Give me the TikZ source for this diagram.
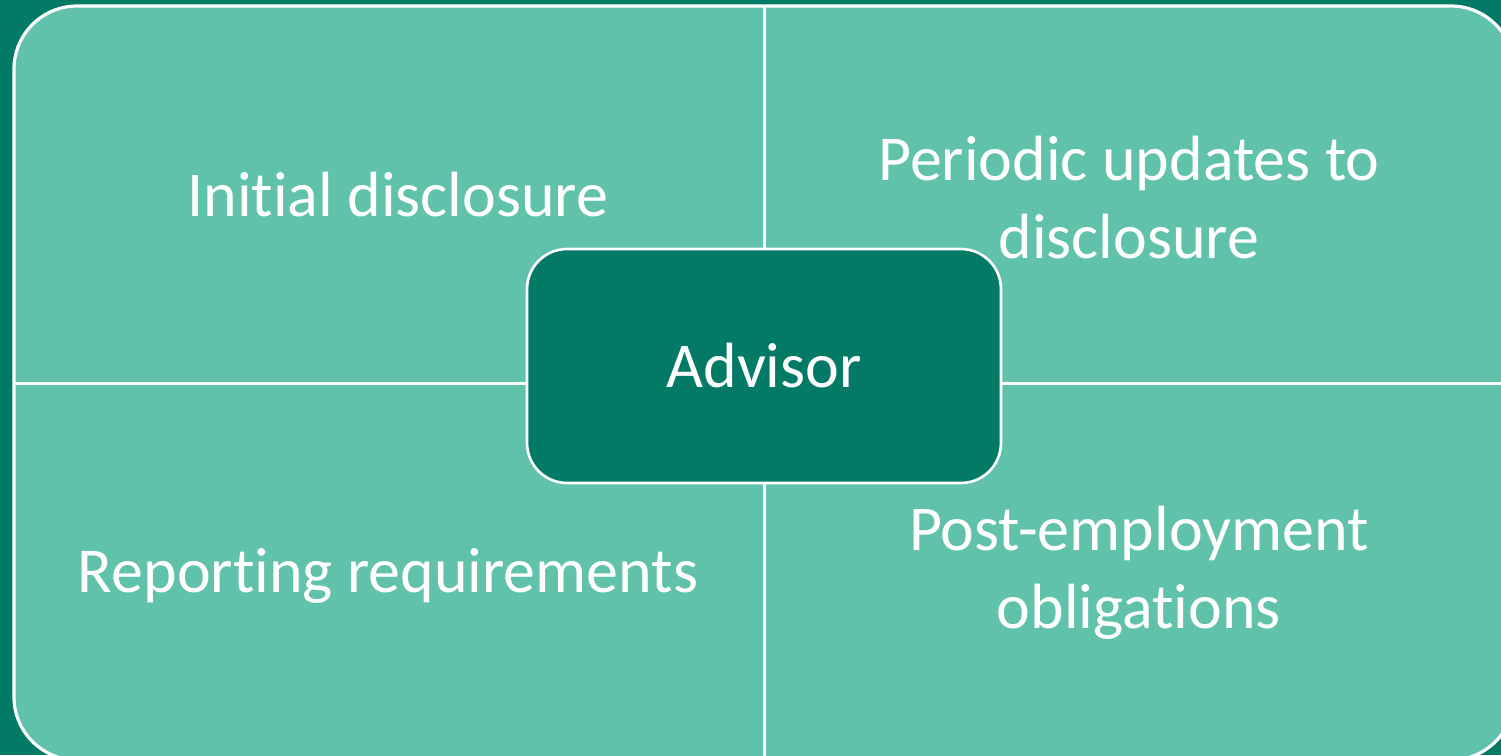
\documentclass[tikz,border=0pt]{standalone}
\usepackage{fontspec}
\setmainfont{Carlito}[Ligatures={NoCommon,NoRare}]
\usetikzlibrary{positioning}
\definecolor{deepteal}{HTML}{037A66}
\definecolor{paleteal}{HTML}{61C2AB}

\begin{document}
\begin{tikzpicture}[x=0.02cm,y=-0.02cm,
    quad/.style={text=white,font=\fontsize{36.4}{44}\selectfont,align=center,anchor=base},
    hub/.style={draw=white,line width=1.5pt,fill=deepteal,rounded corners=0.8cm,
      minimum width=9.48cm,minimum height=4.68cm,text=white,font=\fontsize{36.4}{44}\selectfont}]

  \useasboundingbox (0,0) rectangle (1501,755);
  \clip (0,0) rectangle (1501,755);
  \fill[deepteal] (0,0) rectangle (1501,755);

  % panel and its dividers
  \draw[white,line width=1.8pt,fill=paleteal,rounded corners=1.26cm] (14,6) rectangle (1514,760);
  \coordinate (d_n) at (764,6);
  \coordinate (d_s) at (764,760);
  \coordinate (d_w) at (14,383);
  \coordinate (d_e) at (1514,383);
  \draw[white,line width=1.7pt] (d_n) -- (d_s) (d_w) -- (d_e);

  \node[hub] (adv) at (764,366) {Advisor};

  \node[quad] (q_init)   at (398,216) {Initial disclosure};
  \node[quad] (q_update) at (1129,258) {Periodic updates to\\disclosure};
  \node[quad] (q_report) at (388,592) {Reporting requirements};
  \node[quad] (q_post)   at (1139,628) {Post-employment\\obligations};
\end{tikzpicture}
\end{document}
